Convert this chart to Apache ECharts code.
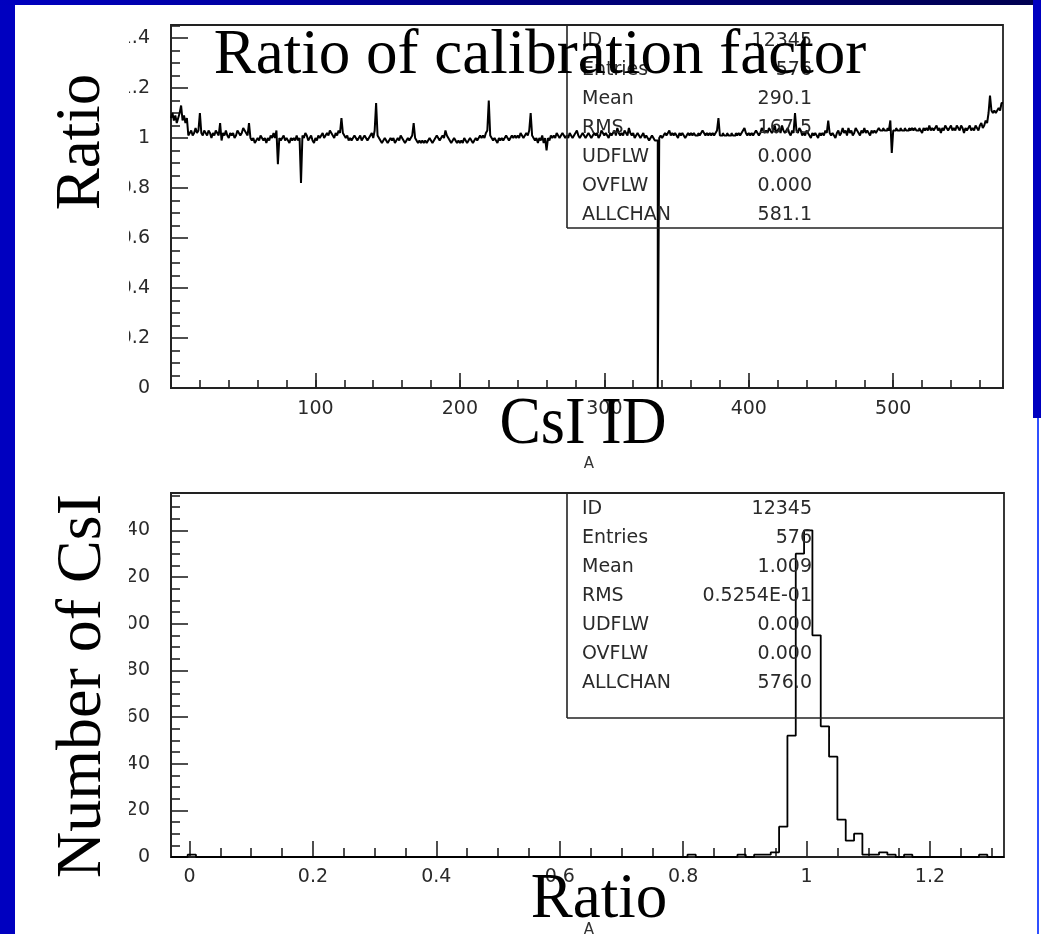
<!DOCTYPE html>
<html>
<head>
<meta charset="utf-8">
<script src="https://cdn.jsdelivr.net/npm/echarts@6/dist/echarts.min.js"></script>
<style>
  html, body { margin: 0; padding: 0; background: #fff; }
  #chart { width: 1041px; height: 934px; }
</style>
</head>
<body>
<div id="chart"></div>
<script>
// calibration factor ratio per CsI channel (1..576)
const ratio = [
  1.08, 1.10, 1.07, 1.09, 1.06, 1.08, 1.10, 1.13, 1.07, 1.09, 1.06, 1.08, 1.01, 1.02, 1.03, 1.01, 1.02, 1.04, 1.02, 1.03, 1.10, 1.02, 1.01, 1.03,
  1.02, 1.01, 1.03, 1.02, 1.00, 1.02, 1.01, 1.03, 1.02, 1.01, 1.06, 0.99, 1.02, 1.01, 1.03, 1.01, 1.00, 1.02, 1.01, 1.02, 1.00, 1.01, 1.03, 1.02,
  1.01, 1.02, 1.04, 1.03, 1.02, 1.01, 1.06, 1.00, 0.99, 1.00, 0.98, 0.99, 1.00, 0.99, 1.01, 1.00, 0.99, 1.00, 0.98, 1.00, 0.99, 1.01, 1.00, 1.02,
  1.00, 1.03, 0.895, 1.00, 0.99, 1.00, 1.01, 0.99, 1.00, 0.99, 0.98, 1.00, 0.99, 1.00, 0.99, 1.01, 0.99, 1.00, 0.82, 1.01, 1.00, 1.02, 1.01, 0.99,
  1.00, 1.01, 0.99, 0.98, 1.00, 0.99, 1.01, 1.00, 1.01, 1.02, 1.00, 1.01, 1.02, 1.01, 1.03, 1.02, 1.01, 1.00, 1.02, 1.01, 1.03, 1.02, 1.08, 1.02,
  1.01, 1.00, 1.01, 0.99, 1.00, 0.99, 1.00, 1.01, 1.00, 0.99, 1.00, 1.01, 0.99, 1.00, 1.01, 1.00, 0.99, 1.00, 1.01, 1.02, 1.00, 1.03, 1.14, 1.01,
  1.00, 0.99, 0.98, 0.99, 1.00, 0.99, 0.98, 0.99, 1.00, 0.99, 1.00, 0.98, 0.99, 1.00, 0.99, 1.01, 1.00, 0.99, 0.98, 0.99, 1.00, 0.99, 1.00, 1.01,
  1.06, 1.00, 0.99, 0.98, 0.99, 0.98, 0.99, 0.98, 0.99, 0.98, 0.99, 1.00, 0.99, 0.98, 0.99, 1.00, 1.01, 1.00, 0.99, 1.00, 1.01, 1.00, 1.03, 1.01,
  1.00, 0.99, 0.98, 0.99, 1.00, 0.99, 0.98, 0.99, 0.98, 0.99, 0.98, 1.00, 0.99, 0.98, 0.99, 1.00, 0.99, 0.98, 0.99, 1.00, 0.99, 1.00, 1.01, 1.00,
  1.01, 1.00, 1.02, 1.03, 1.15, 1.01, 1.00, 0.99, 1.00, 0.99, 0.98, 1.00, 0.99, 1.00, 0.99, 1.00, 1.01, 1.00, 0.99, 1.00, 1.01, 1.00, 1.01, 1.00,
  1.01, 1.00, 1.02, 1.01, 1.00, 1.01, 1.02, 1.01, 1.03, 1.10, 1.01, 1.00, 0.99, 1.00, 0.98, 1.00, 0.99, 1.01, 0.98, 1.00, 0.95, 1.00, 0.99, 1.01,
  1.00, 1.01, 1.00, 1.02, 1.01, 1.00, 1.01, 1.02, 1.01, 1.00, 1.01, 1.00, 1.02, 1.01, 1.00, 1.01, 1.02, 1.03, 1.01, 1.00, 1.01, 1.02, 1.01, 1.00,
  1.01, 1.02, 1.01, 1.00, 1.01, 1.02, 1.01, 1.02, 1.00, 1.01, 1.03, 1.02, 1.01, 1.02, 1.01, 1.00, 1.02, 1.01, 1.02, 1.03, 1.01, 1.04, 1.02, 1.01,
  1.02, 1.01, 1.03, 1.02, 1.01, 1.04, 1.02, 1.01, 1.02, 1.00, 1.01, 1.02, 1.01, 1.00, 1.01, 1.02, 1.00, 1.01, 1.00, 0.99, 1.00, 1.01, 1.00, 0.99,
  0.99, 0.00, 1.00, 1.01, 1.00, 1.01, 1.02, 1.01, 1.02, 1.03, 1.01, 1.02, 1.01, 1.02, 1.01, 1.00, 1.02, 1.01, 1.02, 1.01, 1.00, 1.01, 1.02, 1.01,
  1.02, 1.01, 1.02, 1.01, 1.01, 1.02, 1.01, 1.02, 1.03, 1.02, 1.01, 1.02, 1.01, 1.02, 1.01, 1.02, 1.01, 1.02, 1.03, 1.08, 1.01, 1.01, 1.02, 1.01,
  1.01, 1.02, 1.01, 1.01, 1.02, 1.01, 1.01, 1.02, 1.01, 1.02, 1.01, 1.02, 1.03, 1.04, 1.02, 1.01, 1.02, 1.01, 1.02, 1.01, 1.02, 1.03, 1.02, 1.01,
  1.02, 1.04, 1.03, 1.02, 1.03, 1.02, 1.04, 1.03, 1.02, 1.03, 1.05, 1.02, 1.03, 1.04, 1.02, 1.05, 1.03, 1.02, 1.03, 1.04, 1.02, 1.01, 1.03, 1.02,
  1.10, 1.03, 1.02, 1.04, 1.03, 1.01, 1.02, 1.01, 1.03, 1.02, 1.01, 1.00, 1.02, 1.01, 1.02, 1.01, 1.00, 1.02, 1.01, 1.02, 1.01, 1.03, 1.02, 1.07,
  1.02, 1.01, 1.02, 1.01, 1.00, 1.02, 1.03, 1.01, 1.02, 1.04, 1.02, 1.03, 1.01, 1.04, 1.02, 1.03, 1.01, 1.02, 1.04, 1.03, 1.02, 1.01, 1.03, 1.02,
  1.04, 1.02, 1.03, 1.02, 1.01, 1.03, 1.02, 1.03, 1.02, 1.03, 1.04, 1.03, 1.03, 1.04, 1.03, 1.03, 1.04, 1.03, 1.07, 0.94, 1.03, 1.03, 1.04, 1.03,
  1.03, 1.04, 1.03, 1.03, 1.04, 1.03, 1.03, 1.04, 1.03, 1.04, 1.03, 1.04, 1.03, 1.03, 1.04, 1.03, 1.02, 1.04, 1.03, 1.04, 1.03, 1.05, 1.03, 1.04,
  1.03, 1.04, 1.05, 1.03, 1.04, 1.02, 1.04, 1.03, 1.05, 1.04, 1.03, 1.04, 1.05, 1.03, 1.04, 1.03, 1.05, 1.04, 1.03, 1.05, 1.04, 1.02, 1.04, 1.03,
  1.04, 1.05, 1.03, 1.04, 1.03, 1.05, 1.04, 1.03, 1.05, 1.06, 1.04, 1.05, 1.07, 1.06, 1.10, 1.17, 1.11, 1.10, 1.11, 1.10, 1.11, 1.12, 1.11, 1.14
]

// histogram of the ratio: 100 bins from -0.03 to 1.32
const histLo = -0.03
const binWidth = 0.0135
const counts = [
  0, 0, 1, 0, 0, 0, 0, 0, 0, 0,
  0, 0, 0, 0, 0, 0, 0, 0, 0, 0,
  0, 0, 0, 0, 0, 0, 0, 0, 0, 0,
  0, 0, 0, 0, 0, 0, 0, 0, 0, 0,
  0, 0, 0, 0, 0, 0, 0, 0, 0, 0,
  0, 0, 0, 0, 0, 0, 0, 0, 0, 0,
  0, 0, 1, 0, 0, 0, 0, 0, 1, 0,
  1, 1, 2, 13, 52, 130, 140, 95, 56, 43,
  16, 7, 10, 1, 1, 2, 1, 0, 1, 0,
  0, 0, 0, 0, 0, 0, 0, 1, 0, 0
]

const idTicks = [100, 200, 300, 400, 500]
const ratioTicks = [0, 0.2, 0.4, 0.6, 0.8, 1, 1.2]
const ratioMinorTicks = [0.05, 0.1, 0.15, 0.25, 0.3, 0.35, 0.45, 0.5, 0.55, 0.65, 0.7, 0.75,
  0.85, 0.9, 0.95, 1.05, 1.1, 1.15, 1.25, 1.3]

const statNames = ['ID', 'Entries', 'Mean', 'RMS', 'UDFLW', 'OVFLW', 'ALLCHAN']
const statsTop = ['12345', '576', '290.1', '167.5', '0.000', '0.000', '581.1']
const statsBottom = ['12345', '576', '1.009', '0.5254E-01', '0.000', '0.000', '576.0']

const ratioPts = ratio.map((v, i) => [i, v])
ratioPts.push([ratio.length, ratio[ratio.length - 1]])
const histPts = counts.map((c, k) => [histLo + k * binWidth, c])
histPts.push([histLo + counts.length * binWidth, counts[counts.length - 1]])

const chart = echarts.init(document.getElementById('chart'), null, { renderer: 'canvas' })

const ink = '#222'
const labelFont = { color: '#2a2a2a', fontFamily: 'DejaVu Sans', fontSize: 19 }
const serif = '"Liberation Serif", "Times New Roman", serif'

function statsText(values, y0) {
  const out = []
  statNames.forEach((name, i) => {
    out.push({
      type: 'text', z: 50, x: 582, y: y0 + i * 29,
      style: { text: name, fill: '#2a2a2a', font: '19px "DejaVu Sans"', textAlign: 'left', align: 'left', textVerticalAlign: 'middle', verticalAlign: 'middle' }
    })
    out.push({
      type: 'text', z: 50, x: 812, y: y0 + i * 29,
      style: { text: values[i], fill: '#2a2a2a', font: '19px "DejaVu Sans"', textAlign: 'right', align: 'right', textVerticalAlign: 'middle', verticalAlign: 'middle' }
    })
  })
  return out
}

function line(x1, y1, x2, y2) {
  return { type: 'line', z: 40, shape: { x1, y1, x2, y2 }, style: { stroke: ink, lineWidth: 1.6 } }
}

function title(text, x, y, size, rot, sy) {
  return {
    type: 'text', z: 120, x, y, rotation: rot || 0, scaleY: sy || 1,
    style: { text, fill: '#000', font: size + 'px ' + serif, textAlign: 'center', align: 'center', textVerticalAlign: 'middle', verticalAlign: 'middle' }
  }
}

const graphics = [
  // slide background pieces
  { type: 'rect', z: 100, shape: { x: 15, y: 5, width: 114, height: 929 }, style: { fill: '#fff' } },
  { type: 'rect', z: 110, shape: { x: 0, y: 0, width: 15, height: 934 }, style: { fill: '#0000c0' } },
  {
    type: 'rect', z: 110, shape: { x: 0, y: 0, width: 1041, height: 5 },
    style: { fill: new echarts.graphic.LinearGradient(0, 0, 1, 0, [{ offset: 0, color: '#0000c0' }, { offset: 0.5, color: '#000080' }, { offset: 1, color: '#000050' }]) }
  },
  { type: 'rect', z: 110, shape: { x: 1033, y: 0, width: 8, height: 418 }, style: { fill: '#0000c0' } },
  { type: 'rect', z: 110, shape: { x: 1037, y: 418, width: 2, height: 516 }, style: { fill: '#3050ff' } },
  // stats boxes
  line(567, 25, 567, 228), line(567, 228, 1003, 228),
  line(567, 493, 567, 718), line(567, 718, 1004, 718),
  ...statsText(statsTop, 41),
  ...statsText(statsBottom, 509),
  title('Ratio of calibration factor', 540, 56, 63),
  title('Ratio', 82, 142, 63, Math.PI / 2),
  title('Number of CsI', 83, 686, 64, Math.PI / 2),
  title('CsI ID', 583, 425, 62, 0, 1.1),
  title('Ratio', 599, 900, 63),
  { type: 'text', z: 120, x: 589, y: 464, style: { text: 'A', fill: '#333', font: '15px "DejaVu Sans"', textAlign: 'center', align: 'center', textVerticalAlign: 'middle', verticalAlign: 'middle' } },
  { type: 'text', z: 120, x: 589, y: 930, style: { text: 'A', fill: '#333', font: '15px "DejaVu Sans"', textAlign: 'center', align: 'center', textVerticalAlign: 'middle', verticalAlign: 'middle' } }
]

const axisLine = { show: true, onZero: false, lineStyle: { color: ink, width: 1.8 } }

chart.setOption({
  backgroundColor: '#fff',
  animation: false,
  grid: [
    { left: 171, top: 25, width: 832, height: 363, show: true, borderColor: ink, borderWidth: 1.8, backgroundColor: 'transparent' },
    { left: 171, top: 493, width: 833, height: 364, show: true, borderColor: ink, borderWidth: 1.8, backgroundColor: 'transparent' }
  ],
  xAxis: [
    {
      gridIndex: 0, type: 'value', min: 0, max: 576, position: 'bottom',
      axisLine,
      axisTick: { show: true, inside: true, length: 15, lineStyle: { color: ink, width: 1.6 }, customValues: idTicks },
      minorTick: { show: false },
      axisLabel: { ...labelFont, margin: 12, customValues: idTicks },
      splitLine: { show: false }
    },
    {
      gridIndex: 1, type: 'value', min: histLo, max: histLo + counts.length * binWidth, position: 'bottom',
      axisLine,
      axisTick: { show: true, inside: true, length: 16, lineStyle: { color: ink, width: 1.6 }, customValues: ratioTicks },
      axisLabel: { ...labelFont, margin: 11, customValues: ratioTicks },
      splitLine: { show: false }
    },
    {
      gridIndex: 1, type: 'value', min: histLo, max: histLo + counts.length * binWidth, position: 'bottom',
      axisLine: { show: false, onZero: false },
      axisTick: { show: true, inside: true, length: 9, lineStyle: { color: ink, width: 1.6 }, customValues: ratioMinorTicks },
      axisLabel: { show: false },
      splitLine: { show: false }
    },
    {
      // minor ticks of the channel axis, every 20
      gridIndex: 0, type: 'value', min: 0, max: 576, interval: 20, position: 'bottom',
      axisLine: { show: false, onZero: false },
      axisTick: { show: true, inside: true, length: 8, lineStyle: { color: ink, width: 1.6 } },
      axisLabel: { show: false },
      splitLine: { show: false }
    }
  ],
  yAxis: [
    {
      gridIndex: 0, type: 'value', min: 0, max: 1.452, interval: 0.2, position: 'left',
      axisLine,
      axisTick: { show: true, inside: true, length: 17, lineStyle: { color: ink, width: 1.6 } },
      minorTick: { show: true, splitNumber: 4, length: 9, lineStyle: { color: ink, width: 1.6 } },
      axisLabel: { ...labelFont, margin: 21, showMaxLabel: false },
      splitLine: { show: false }
    },
    {
      gridIndex: 1, type: 'value', min: 0, max: 156, interval: 20, position: 'left',
      axisLine,
      axisTick: { show: true, inside: true, length: 17, lineStyle: { color: ink, width: 1.6 } },
      minorTick: { show: true, splitNumber: 4, length: 9, lineStyle: { color: ink, width: 1.6 } },
      axisLabel: { ...labelFont, margin: 21, showMaxLabel: false },
      splitLine: { show: false }
    }
  ],
  series: [
    {
      type: 'line', xAxisIndex: 0, yAxisIndex: 0, step: 'end', symbol: 'none',
      data: ratioPts, lineStyle: { color: '#000', width: 2 }, clip: true
    },
    {
      type: 'line', xAxisIndex: 1, yAxisIndex: 1, step: 'end', symbol: 'none',
      data: histPts, lineStyle: { color: '#000', width: 1.8 }, clip: true
    }
  ],
  graphic: graphics
})
</script>
</body>
</html>
